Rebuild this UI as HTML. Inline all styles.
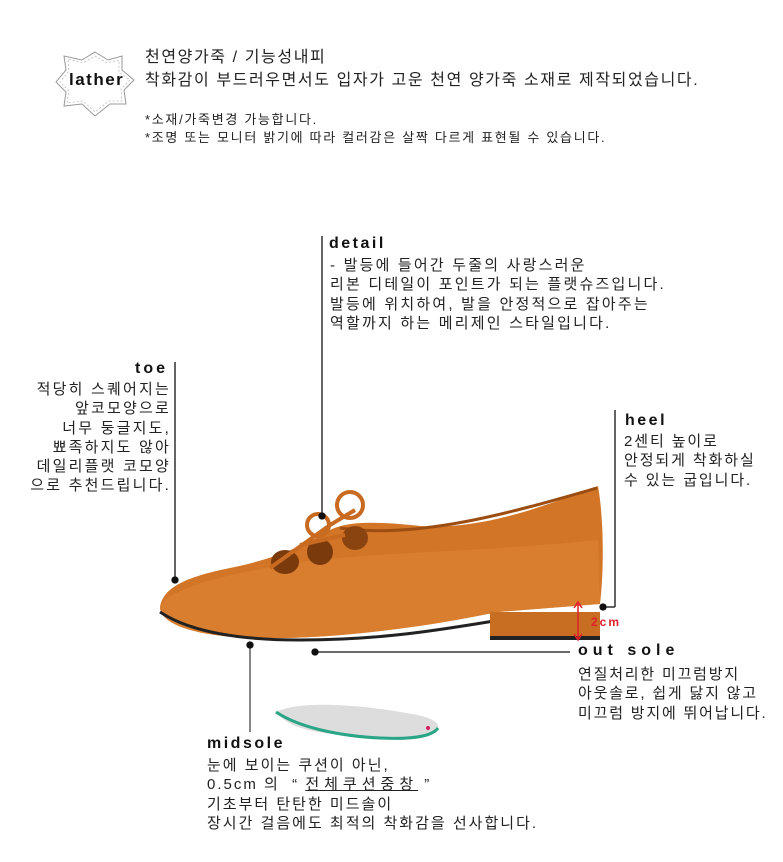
<!DOCTYPE html>
<html><head><meta charset="utf-8"><style>
body{margin:0;width:783px;height:862px;background:#fff;position:relative;overflow:hidden;font-family:"Liberation Sans","Noto Sans CJK KR","NanumGothic",sans-serif;color:#222}
.t{position:absolute;font-size:15px;line-height:19.3px;white-space:nowrap;letter-spacing:2.2px}
.h{position:absolute;font-weight:bold;font-size:16px;letter-spacing:2.5px;white-space:nowrap;color:#111}
</style></head><body>
<svg width="783" height="862" style="position:absolute;left:0;top:0">
<path d="M95 52 L108 60 L122 56 L122 70 L134 80 L124 90 L126 104 L110 104 L95 116 L82 104 L64 106 L66 92 L56 82 L66 70 L64 56 L82 60 Z" fill="none" stroke="#999" stroke-width="1"/>
<path d="M95 56 L107 63 L119 60 L119 72 L130 80 L121 89 L122 101 L109 101 L95 112 L83 101 L67 103 L69 91 L60 82 L69 71 L68 59 L83 63 Z" fill="none" stroke="#bbb" stroke-width="0.8" stroke-dasharray="2 2"/>
<path d="M160 608 C162 590 180 578 230 568 C270 560 300 548 330 530 C350 520 380 522 420 526 C480 530 540 508 598 486 C604 520 604 570 600 604 L498 612 C420 628 330 640 250 638 C200 636 162 626 160 608 Z" fill="#d27527"/>
<path d="M165 600 C190 582 240 572 300 562 C380 552 480 552 598 540 L600 604 L498 612 C420 628 330 640 250 638 C200 636 162 626 160 608 Z" fill="#dd8436" opacity="0.6"/>
<path d="M340 528 C420 540 520 510 597 488" stroke="#9c4d12" stroke-width="3" fill="none"/>
<path d="M160 612 C190 632 240 640 300 640 C380 640 440 630 500 620" stroke="#222" stroke-width="3" fill="none"/>
<rect x="490" y="612" width="110" height="26" fill="#c86e22"/>
<rect x="490" y="636" width="110" height="4" fill="#222"/>
<ellipse cx="285" cy="562" rx="14" ry="12" fill="#7a3a0c"/>
<ellipse cx="320" cy="552" rx="13" ry="13" fill="#7a3a0c"/>
<ellipse cx="355" cy="538" rx="13" ry="12" fill="#8a4410"/>
<circle cx="350" cy="505" r="13" fill="none" stroke="#c86a20" stroke-width="4"/>
<circle cx="318" cy="525" r="11" fill="none" stroke="#c86a20" stroke-width="4"/>
<path d="M270 568 L330 525 L355 510 M300 545 L345 535" stroke="#c86a20" stroke-width="4" fill="none"/>
<line x1="578" y1="604" x2="578" y2="638" stroke="#e0202a" stroke-width="1.5"/>
<path d="M574 608 L578 602 L582 608 M574 634 L578 640 L582 634" stroke="#e0202a" fill="none" stroke-width="1.5"/>
<text x="591" y="626" font-family="Liberation Sans" font-size="12" font-weight="bold" fill="#e0202a" letter-spacing="2">2cm</text>
<path d="M276 712 C300 700 360 705 400 712 C430 716 440 722 438 728 C430 740 400 738 360 736 C320 734 290 730 276 712 Z" fill="#ddd" />
<path d="M276 712 C300 728 340 736 380 738 C420 740 434 734 438 728" stroke="#2aa585" stroke-width="3" fill="none"/>
<circle cx="428" cy="728" r="2" fill="#d02060"/>
<g stroke="#111" stroke-width="1.3" fill="#111">
<line x1="322" y1="236" x2="322" y2="516"/><circle cx="322" cy="516" r="3"/>
<line x1="175" y1="362" x2="175" y2="580"/><circle cx="175" cy="580" r="3"/>
<line x1="615" y1="410" x2="615" y2="607"/><line x1="603" y1="607" x2="615" y2="607"/><circle cx="603" cy="607" r="3"/>
<line x1="315" y1="652" x2="570" y2="652"/><circle cx="315" cy="652" r="3"/>
<line x1="250" y1="645" x2="250" y2="732" stroke="#444"/><circle cx="250" cy="645" r="3"/>
</g>
</svg>
<div class="h" style="left:69px;top:70px;font-size:17px;letter-spacing:1.5px">lather</div>
<div class="t" style="left:145px;top:46px;font-size:16px;line-height:23px;letter-spacing:1.6px">천연양가죽 / 기능성내피<br>착화감이 부드러우면서도 입자가 고운 천연 양가죽 소재로 제작되었습니다.</div>
<div class="t" style="left:145px;top:111px;font-size:13px;line-height:18px;letter-spacing:1.7px">*소재/가죽변경 가능합니다.<br>*조명 또는 모니터 밝기에 따라 컬러감은 살짝 다르게 표현될 수 있습니다.</div>
<div class="h" style="left:329px;top:235px">detail</div>
<div class="t" style="left:330px;top:256px;letter-spacing:2.2px">- 발등에 들어간 두줄의 사랑스러운<br>리본 디테일이 포인트가 되는 플랫슈즈입니다.<br>발등에 위치하여, 발을 안정적으로 잡아주는<br>역할까지 하는 메리제인 스타일입니다.</div>
<div class="h" style="left:135px;top:360px;letter-spacing:3px">toe</div>
<div class="t" style="right:612px;top:380px;text-align:right;letter-spacing:2.2px">적당히 스퀘어지는<br>앞코모양으로<br>너무 둥글지도,<br>뾰족하지도 않아<br>데일리플랫 코모양<br>으로 추천드립니다.</div>
<div class="h" style="left:625px;top:412px">heel</div>
<div class="t" style="left:624px;top:432px;letter-spacing:1.9px">2센티 높이로<br>안정되게 착화하실<br>수 있는 굽입니다.</div>
<div class="h" style="left:578px;top:642px;letter-spacing:5px">out sole</div>
<div class="t" style="left:578px;top:665px;letter-spacing:1.8px">연질처리한 미끄럼방지<br>아웃솔로, 쉽게 닳지 않고<br>미끄럼 방지에 뛰어납니다.</div>
<div class="h" style="left:207px;top:735px">midsole</div>
<div class="t" style="left:207px;top:756px;letter-spacing:2px">눈에 보이는 쿠션이 아닌,<br>0.5cm 의 &nbsp;“ <span style="text-decoration:underline;letter-spacing:5px">전체쿠션중창</span> ”<br>기초부터 탄탄한 미드솔이<br>장시간 걸음에도 최적의 착화감을 선사합니다.</div>
</body></html>
